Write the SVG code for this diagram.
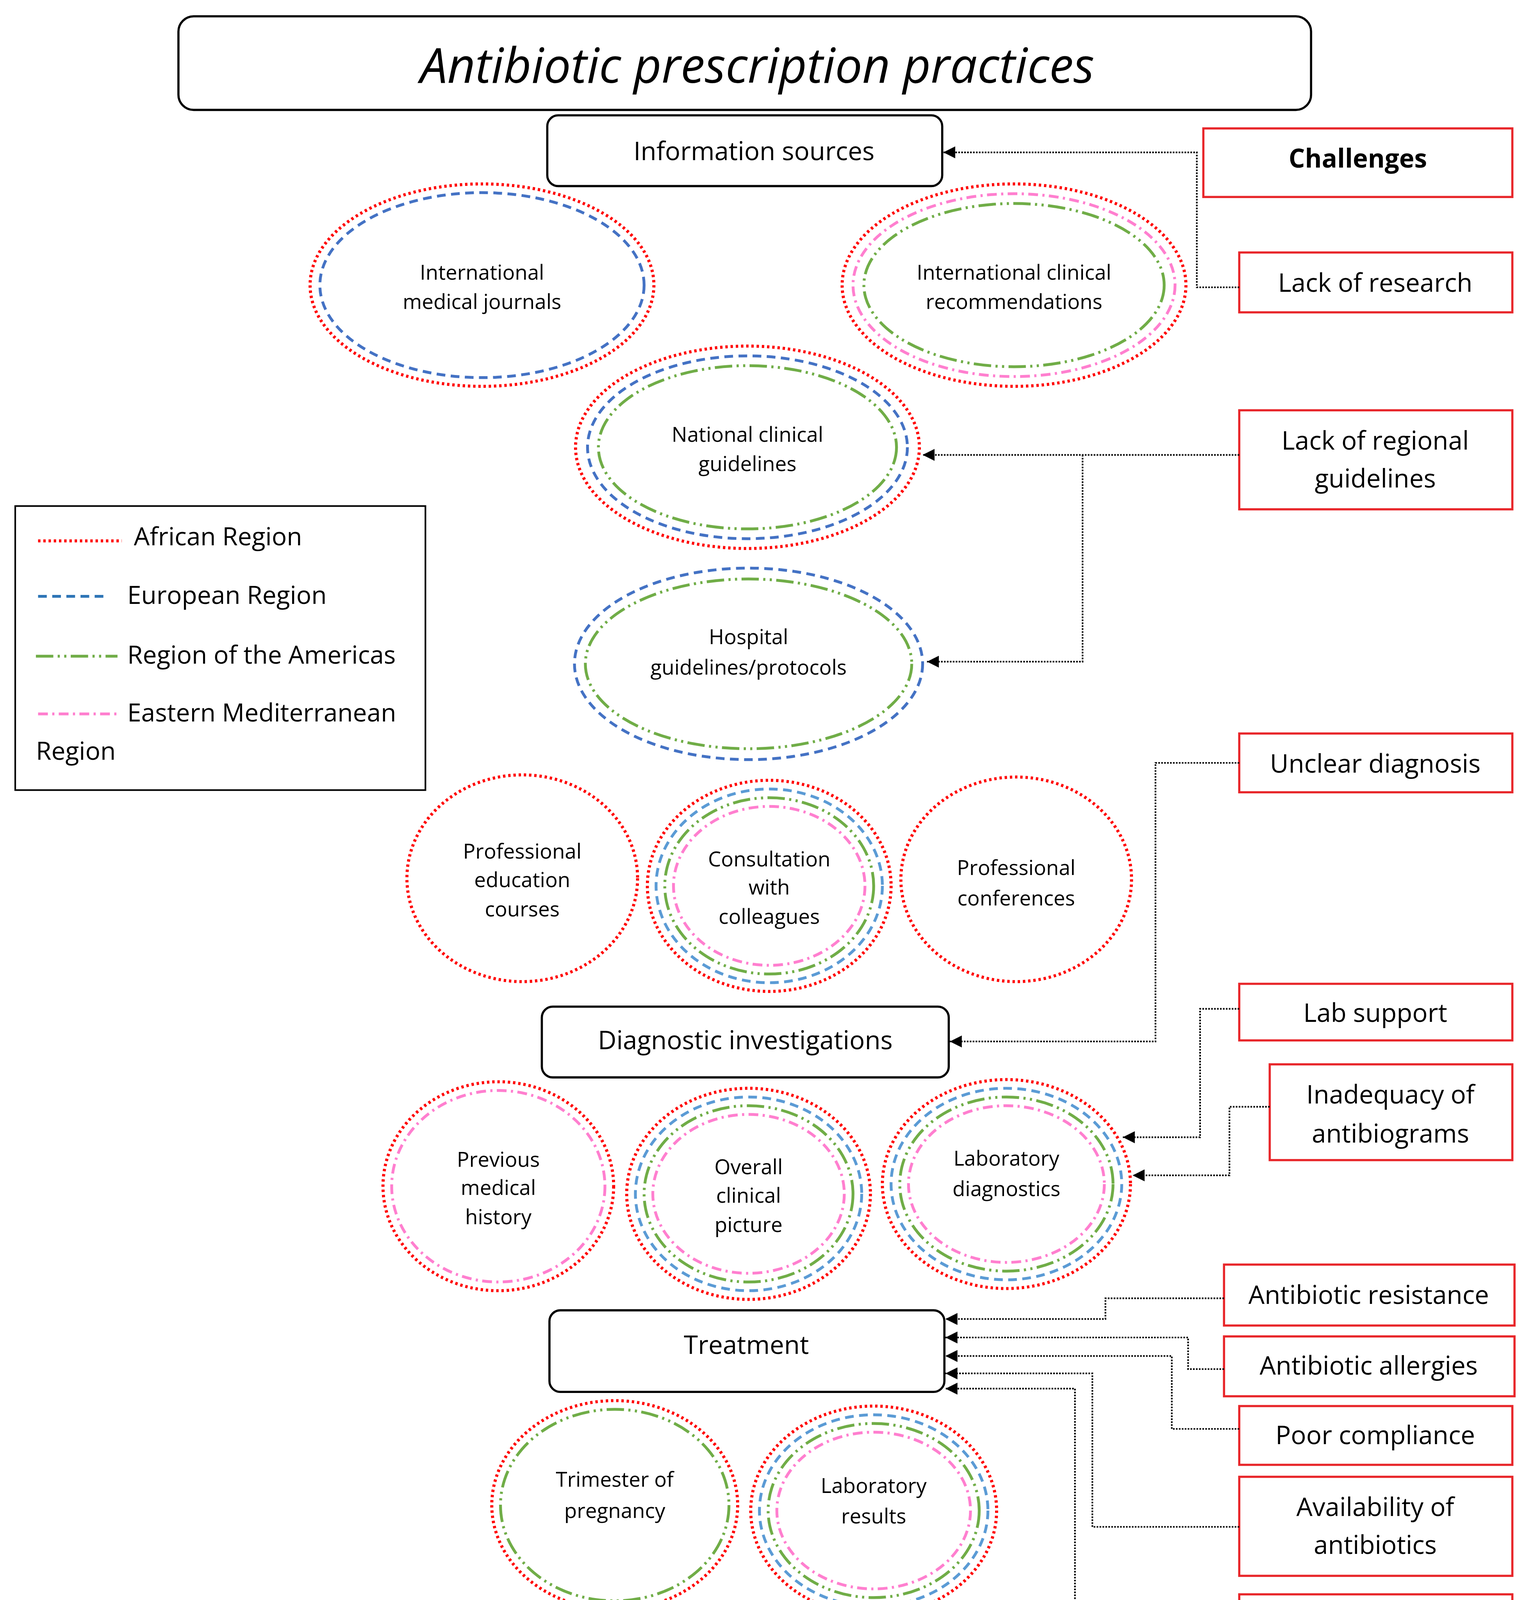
<svg xmlns="http://www.w3.org/2000/svg" width="3928" height="4397" viewBox="0 0 3928 4397">
<defs>
<style>
text{font-family:"Open Sans","Liberation Sans",sans-serif;fill:#000;text-anchor:middle}
.t{font-size:19px}
.b{font-size:23.5px}
.lg{font-size:23px;text-anchor:start}
.hb{fill:#fff;stroke:#000;stroke-width:2}
.cb{fill:#fff;stroke:#e8262a;stroke-width:2}
.r{fill:none;stroke:#f00;stroke-width:2.8;stroke-dasharray:2.2 2.6}
.bl{fill:none;stroke:#4472c4;stroke-width:2.6;stroke-dasharray:8 5}
.bl2{fill:none;stroke:#5b9bd5;stroke-width:2.6;stroke-dasharray:8 5}
.g{fill:none;stroke:#70ad47;stroke-width:2.6;stroke-dasharray:16 4 2 4 2 4}
.p{fill:none;stroke:#ff7fcf;stroke-width:2.6;stroke-dasharray:9 4 2 4}
.c{fill:none;stroke:#000;stroke-width:1.5;stroke-dasharray:1.5 1.2}
</style>
<marker id="a" viewBox="0 0 10 10" refX="10" refY="5" markerWidth="11" markerHeight="11" markerUnits="userSpaceOnUse" orient="auto"><path d="M0,0L10,5L0,10z" fill="#000"/></marker>
</defs>
<rect width="3928" height="4397" fill="#fff"/>
<g transform="scale(2.786)">
<g id="title"><rect class="hb" x="164" y="15" width="1041" height="86" rx="14"/><text x="696" y="76" style="font-size:44.5px;font-style:italic">Antibiotic prescription practices</text></g>
<g id="info"><rect class="hb" x="503" y="106" width="363" height="65" rx="10"/><text class="b" x="693" y="147">Information sources</text></g>
<g id="diag"><rect class="hb" x="498" y="925" width="374" height="65" rx="10"/><text class="b" x="685" y="964">Diagnostic investigations</text></g>
<g id="treat"><rect class="hb" x="505" y="1204" width="363" height="75" rx="10"/><text class="b" x="686" y="1244">Treatment</text></g>

<g id="e1"><ellipse class="r" cx="443" cy="262" rx="158" ry="93"/><ellipse class="bl" cx="443" cy="262" rx="149" ry="85"/><text class="t" x="443" y="257">International</text><text class="t" x="443" y="284">medical journals</text></g>
<g id="e2"><ellipse class="r" cx="932" cy="262" rx="158" ry="93"/><ellipse class="p" cx="932" cy="262" rx="148" ry="84"/><ellipse class="g" cx="932" cy="262" rx="138" ry="75"/><text class="t" x="932" y="257">International clinical</text><text class="t" x="932" y="284">recommendations</text></g>
<g id="e3"><ellipse class="r" cx="687" cy="411" rx="158" ry="93"/><ellipse class="bl" cx="687" cy="411" rx="147" ry="84"/><ellipse class="g" cx="687" cy="411" rx="137" ry="75"/><text class="t" x="687" y="406">National clinical</text><text class="t" x="687" y="433">guidelines</text></g>
<g id="e4"><ellipse class="bl" cx="688" cy="610" rx="160" ry="88"/><ellipse class="g" cx="688" cy="610" rx="150" ry="78"/><text class="t" x="688" y="592">Hospital</text><text class="t" x="688" y="620">guidelines/protocols</text></g>
<g id="e5"><ellipse class="r" cx="480" cy="807" rx="106" ry="95"/><text class="t" x="480" y="789">Professional</text><text class="t" x="480" y="815">education</text><text class="t" x="480" y="842">courses</text></g>
<g id="e6"><ellipse class="r" cx="707" cy="814" rx="112" ry="97"/><ellipse class="bl2" cx="707" cy="814" rx="104" ry="89"/><ellipse class="g" cx="707" cy="814" rx="96" ry="81"/><ellipse class="p" cx="707" cy="814" rx="88" ry="73"/><text class="t" x="707" y="796">Consultation</text><text class="t" x="707" y="822">with</text><text class="t" x="707" y="849">colleagues</text></g>
<g id="e7"><ellipse class="r" cx="934" cy="808" rx="106" ry="94"/><text class="t" x="934" y="804">Professional</text><text class="t" x="934" y="832">conferences</text></g>
<g id="e8"><ellipse class="r" cx="458" cy="1090" rx="106" ry="96"/><ellipse class="p" cx="458" cy="1090" rx="98" ry="88"/><text class="t" x="458" y="1072">Previous</text><text class="t" x="458" y="1098">medical</text><text class="t" x="458" y="1125">history</text></g>
<g id="e9"><ellipse class="r" cx="688" cy="1097" rx="112" ry="97"/><ellipse class="bl2" cx="688" cy="1097" rx="104" ry="89"/><ellipse class="g" cx="688" cy="1097" rx="96" ry="81"/><ellipse class="p" cx="688" cy="1097" rx="88" ry="73"/><text class="t" x="688" y="1079">Overall</text><text class="t" x="688" y="1105">clinical</text><text class="t" x="688" y="1132">picture</text></g>
<g id="e10"><ellipse class="r" cx="925" cy="1088" rx="114" ry="96"/><ellipse class="bl2" cx="925" cy="1088" rx="106" ry="88"/><ellipse class="g" cx="925" cy="1088" rx="98" ry="80"/><ellipse class="p" cx="925" cy="1088" rx="90" ry="72"/><text class="t" x="925" y="1071">Laboratory</text><text class="t" x="925" y="1099">diagnostics</text></g>
<g id="e11"><ellipse class="r" cx="565" cy="1383" rx="113" ry="96"/><ellipse class="g" cx="565" cy="1383" rx="105" ry="88"/><text class="t" x="565" y="1366">Trimester of</text><text class="t" x="565" y="1395">pregnancy</text></g>
<g id="e12"><ellipse class="r" cx="803" cy="1388" rx="113" ry="96"/><ellipse class="bl2" cx="803" cy="1388" rx="105" ry="88"/><ellipse class="g" cx="803" cy="1388" rx="97" ry="80"/><ellipse class="p" cx="803" cy="1388" rx="89" ry="72"/><text class="t" x="803" y="1372">Laboratory</text><text class="t" x="803" y="1400">results</text></g>

<g id="legend"><rect x="14" y="465" width="377" height="261" fill="#fff" stroke="#000" stroke-width="1.5"/>
<line class="r" x1="35" y1="497" x2="112" y2="497"/><text class="lg" x="123" y="501">African Region</text>
<line class="bl" x1="35" y1="548" x2="100" y2="548" style="stroke:#2e75b6"/><text class="lg" x="117" y="555">European Region</text>
<line class="g" x1="33" y1="603" x2="108" y2="603"/><text class="lg" x="117" y="610">Region of the Americas</text>
<line class="p" x1="35" y1="656" x2="107" y2="656"/><text class="lg" x="117" y="663">Eastern Mediterranean</text><text class="lg" x="33" y="698">Region</text></g>

<g id="ch0"><rect class="cb" x="1106" y="118" width="284" height="63"/><text class="b" x="1248" y="154" font-weight="bold">Challenges</text></g>
<g id="ch1"><rect class="cb" x="1139" y="232" width="251" height="55"/><text class="b" x="1264" y="268">Lack of research</text></g>
<g id="ch2"><rect class="cb" x="1139" y="377" width="251" height="91"/><text class="b" x="1264" y="413">Lack of regional</text><text class="b" x="1264" y="448">guidelines</text></g>
<g id="ch3"><rect class="cb" x="1139" y="674" width="251" height="54"/><text class="b" x="1264" y="710">Unclear diagnosis</text></g>
<g id="ch4"><rect class="cb" x="1139" y="904" width="251" height="52"/><text class="b" x="1264" y="939">Lab support</text></g>
<g id="ch5"><rect class="cb" x="1167" y="978" width="223" height="88"/><text class="b" x="1278" y="1014">Inadequacy of</text><text class="b" x="1278" y="1050">antibiograms</text></g>
<g id="ch6"><rect class="cb" x="1125" y="1162" width="267" height="56"/><text class="b" x="1258" y="1198">Antibiotic resistance</text></g>
<g id="ch7"><rect class="cb" x="1125" y="1228" width="267" height="55"/><text class="b" x="1258" y="1263">Antibiotic allergies</text></g>
<g id="ch8"><rect class="cb" x="1139" y="1292" width="251" height="54"/><text class="b" x="1264" y="1327">Poor compliance</text></g>
<g id="ch9"><rect class="cb" x="1139" y="1357" width="251" height="91"/><text class="b" x="1264" y="1393">Availability of</text><text class="b" x="1264" y="1428">antibiotics</text></g>
<g id="ch10"><rect class="cb" x="1139" y="1465" width="251" height="91"/><text class="b" x="1264" y="1500">Over prescription</text><text class="b" x="1264" y="1536">of antibiotics</text></g>

<g id="connectors">
<polyline class="c" points="1139,264 1100,264 1100,140 867,140" marker-end="url(#a)"/>
<polyline class="c" points="1139,418 848,418" marker-end="url(#a)"/>
<polyline class="c" points="995,418 995,608 852,608" marker-end="url(#a)"/>
<polyline class="c" points="1139,701 1062,701 1062,957 873,957" marker-end="url(#a)"/>
<polyline class="c" points="1139,927 1103,927 1103,1045 1032,1045" marker-end="url(#a)"/>
<polyline class="c" points="1167,1017 1130,1017 1130,1080 1041,1080" marker-end="url(#a)"/>
<polyline class="c" points="1125,1193 1016,1193 1016,1212 869,1212" marker-end="url(#a)"/>
<polyline class="c" points="1125,1258 1092,1258 1092,1229 869,1229" marker-end="url(#a)"/>
<polyline class="c" points="1139,1313 1077,1313 1077,1246 869,1246" marker-end="url(#a)"/>
<polyline class="c" points="1139,1403 1004,1403 1004,1262 869,1262" marker-end="url(#a)"/>
<polyline class="c" points="1139,1510 988,1510 988,1276 869,1276" marker-end="url(#a)"/>
</g>
</g>
</svg>
